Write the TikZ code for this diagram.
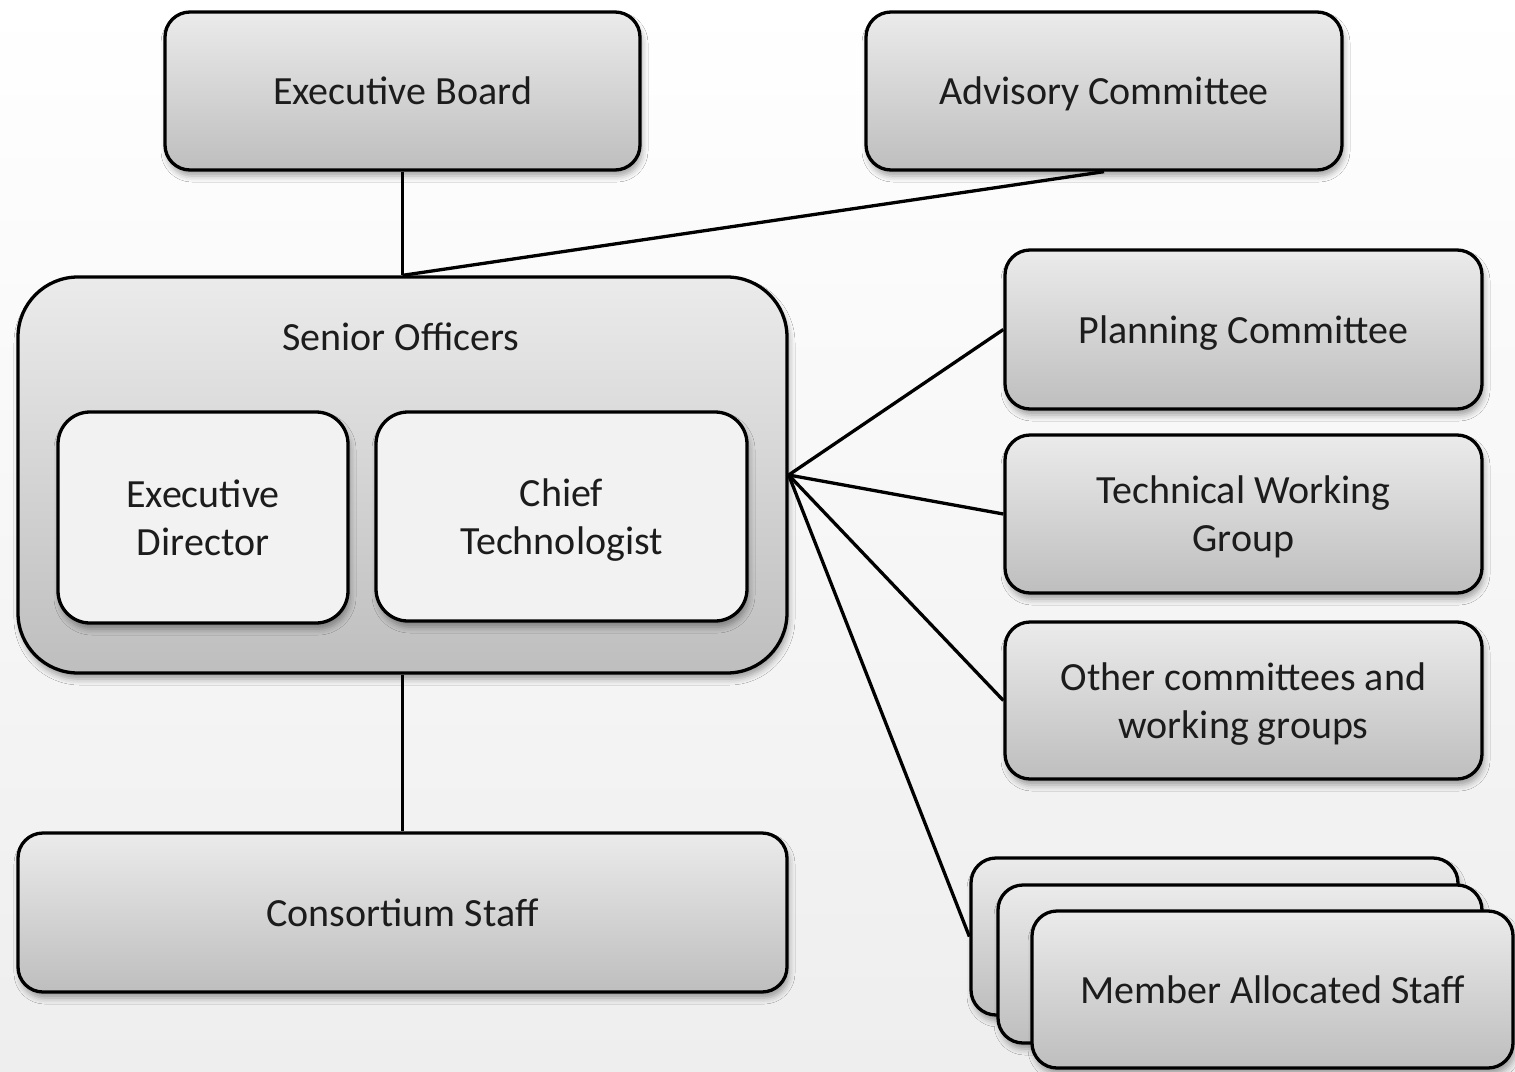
\documentclass[tikz,border=0pt]{standalone}
\usepackage{fontspec}
\setmainfont{Carlito}
\usetikzlibrary{shadows.blur}
\definecolor{boxtop}{RGB}{235,235,235}
\definecolor{boxbot}{RGB}{190,190,190}
\definecolor{innerfill}{RGB}{242,242,242}
\definecolor{txt}{RGB}{28,28,28}
\definecolor{bgbot}{RGB}{238,238,238}
\begin{document}
\begin{tikzpicture}[x=1pt,y=-1pt,
  softshadow/.style={blur shadow={shadow xshift=2pt, shadow yshift=-6pt, shadow blur radius=6pt, shadow opacity=35}},
  box/.style={draw=black, line width=3.3pt, rounded corners=25pt, top color=boxtop, bottom color=boxbot,
    text=txt, align=center, font=\fontsize{40}{48}\selectfont, inner sep=0pt, text depth=0pt, softshadow},
  innerbox/.style={draw=black, line width=3.3pt, rounded corners=32pt, fill=innerfill,
    text=txt, align=center, font=\fontsize{40}{48}\selectfont, inner sep=0pt, text depth=0pt, softshadow},
  label/.style={text=txt, font=\fontsize{40}{48}\selectfont, inner sep=0pt},
  link/.style={draw=black, line width=3.3pt}]
\shade[top color=white, bottom color=bgbot] (0,0) rectangle (1515,1071);
\useasboundingbox (0,0) rectangle (1515,1071);

% top row
\node[box, minimum width=475pt, minimum height=158pt] (eb) at (402.5,91) {Executive Board};
\node[box, minimum width=476pt, minimum height=158pt] (ac) at (1104,91) {Advisory Committee};

% senior officers
\node[box, rounded corners=60pt, minimum width=769pt, minimum height=396pt] (so) at (402.5,475) {};
\node[label] (sol) at (401,337) {Senior Officers};
\node[innerbox, minimum width=290pt, minimum height=211pt] (ed) at (203,517.5) {Executive\\Director};
\node[innerbox, minimum width=371pt, minimum height=209pt] (ct) at (561.5,516.5) {Chief\\Technologist};

% right column
\node[box, minimum width=477pt, minimum height=159pt] (pc) at (1243.5,329.5) {Planning Committee};
\node[box, minimum width=477pt, minimum height=158pt] (tw) at (1243.5,514) {Technical Working\\Group};
\node[box, minimum width=477pt, minimum height=157pt] (oc) at (1243.5,700.5) {Other committees and\\working groups};

% consortium staff
\node[box, minimum width=769pt, minimum height=159pt] (cs) at (402.5,912.5) {Consortium Staff};

% member allocated staff stack
\node[box, minimum width=487pt, minimum height=157pt] (ms1) at (1214.5,936.5) {};
\node[box, minimum width=484pt, minimum height=158pt] (ms2) at (1240,964) {};
\node[box, minimum width=481pt, minimum height=157pt] (ms3) at (1272.5,989.5) {Member Allocated Staff};

% connectors
\draw[link] (eb.south) -- (so.north);
\draw[link] (ac.south) -- (so.north);
\draw[link] (so.south) -- (cs.north);
\draw[link] (so.east) -- (pc.west);
\draw[link] (so.east) -- (tw.west);
\draw[link] (so.east) -- (oc.west);
\draw[link] (so.east) -- (ms1.west);
\end{tikzpicture}
\end{document}
